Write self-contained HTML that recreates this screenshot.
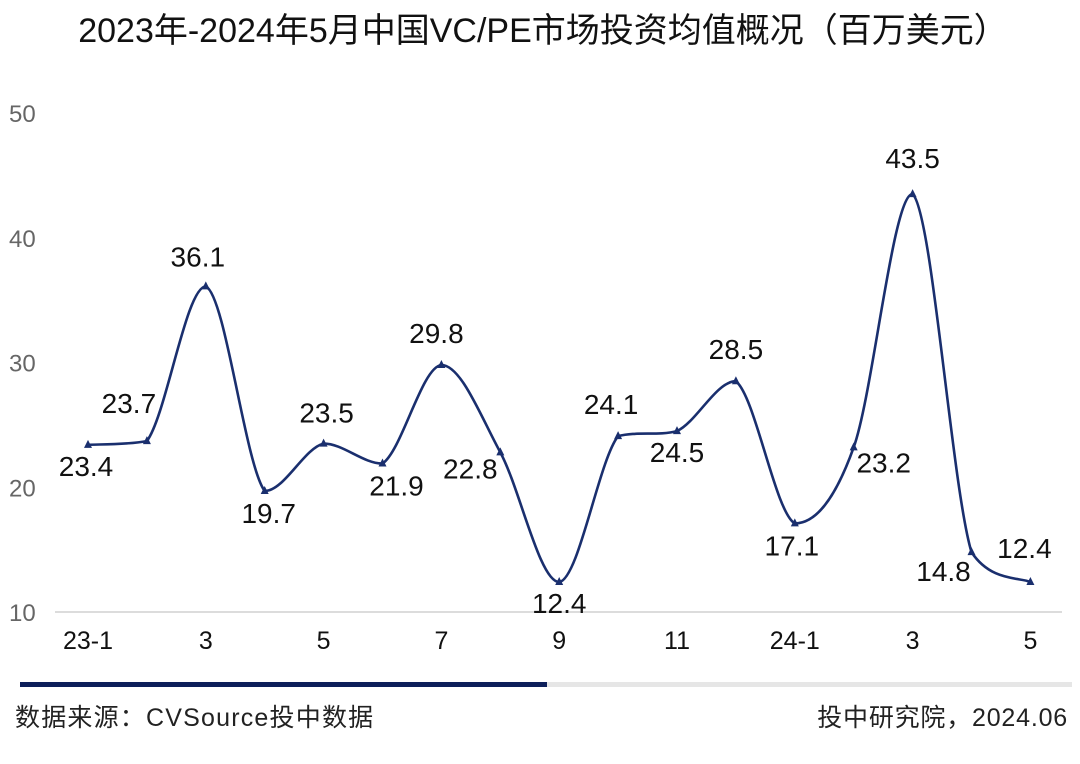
<!DOCTYPE html>
<html><head><meta charset="utf-8"><style>
body{margin:0;background:#fff;width:1080px;height:764px;overflow:hidden;font-family:"Liberation Sans","Noto Sans CJK SC",sans-serif}
svg{position:absolute;left:0;top:0}
</style></head><body>
<svg id="chart" width="1080" height="764">
<text x="543" y="42" text-anchor="middle" font-size="34" fill="#111" font-family="Liberation Sans, Noto Sans CJK SC, sans-serif">2023年-2024年5月中国VC/PE市场投资均值概况（百万美元）</text>
<line x1="55" y1="612" x2="1062" y2="612" stroke="#d0d0d0" stroke-width="1.5"/>
<g id="yt"></g><g id="xt"></g><g id="marks"></g>
<rect x="20" y="682" width="527" height="5" fill="#0d1f5a"/>
<rect x="547" y="682" width="525" height="5" fill="#e6e6e6"/>
<text x="15" y="726" font-size="25" letter-spacing="1.2" fill="#222" font-family="Liberation Sans, Noto Sans CJK SC, sans-serif">数据来源：CVSource投中数据</text>
<text x="1068" y="726" text-anchor="end" font-size="25" letter-spacing="0.8" fill="#222" font-family="Liberation Sans, Noto Sans CJK SC, sans-serif">投中研究院，2024.06</text>
</svg>
<script>
const categories=["23-1","2","3","4","5","6","7","8","9","10","11","12","24-1","2","3","4","5"];
const values=[23.4,23.7,36.1,19.7,23.5,21.9,29.8,22.8,12.4,24.1,24.5,28.5,17.1,23.2,43.5,14.8,12.4];
const yTicks=[10,20,30,40,50];
const xTickLabels=["23-1","","3","","5","","7","","9","","11","","24-1","","3","","5"];
const labelOffsets=[[-2,31],[-18,-28],[-8,-20],[4,32],[3,-21],[14,32],[-5,-22],[-30,26],[0,31],[-7,-22],[0,31],[0,-22],[-3,32],[30,25],[0,-26],[-28,29],[-6,-24]];
const NS="http://www.w3.org/2000/svg";
const X=i=>88+i*58.9;
const Y=v=>612-(v-10)*12.475;
function mk(t,a,p){const e=document.createElementNS(NS,t);for(const k in a)e.setAttribute(k,a[k]);p.appendChild(e);return e;}
const yt=document.getElementById('yt'),xt=document.getElementById('xt'),mg=document.getElementById('marks');
yTicks.forEach(v=>{const t=mk('text',{x:9,y:Y(v)+9,'font-size':24,fill:'#666'},yt);t.textContent=v;

});
xTickLabels.forEach((l,i)=>{if(!l)return;const t=mk('text',{x:X(i),y:649,'font-size':25,fill:'#111','text-anchor':'middle'},xt);t.textContent=l;

});
const pts=values.map((v,i)=>[X(i),Y(v)]);
let d=`M${pts[0][0]},${pts[0][1]}`;
const cl=(y,a,b)=>Math.min(Math.max(y,Math.min(a,b)),Math.max(a,b));
for(let i=0;i<pts.length-1;i++){const p0=pts[i-1]||pts[i],p1=pts[i],p2=pts[i+1],p3=pts[i+2]||p2;
const c1=[p1[0]+(p2[0]-p0[0])/6,cl(p1[1]+(p2[1]-p0[1])/6,p1[1],p2[1])],c2=[p2[0]-(p3[0]-p1[0])/6,cl(p2[1]-(p3[1]-p1[1])/6,p1[1],p2[1])];
d+=` C${c1[0]},${c1[1]} ${c2[0]},${c2[1]} ${p2[0]},${p2[1]}`;}
const line=mk('path',{d:d,fill:'none',stroke:'#1a2f6e','stroke-width':2.6},mg);


pts.forEach((p,i)=>{const m=mk('path',{d:`M${p[0]},${p[1]-5} L${p[0]+4},${p[1]+3} L${p[0]-4},${p[1]+3}Z`,fill:'#1a2f6e'},mg);


const t=mk('text',{x:p[0]+labelOffsets[i][0],y:p[1]+labelOffsets[i][1],'font-size':28,fill:'#111','text-anchor':'middle'},mg);t.textContent=values[i].toFixed(1);

});
</script>
</body></html>
